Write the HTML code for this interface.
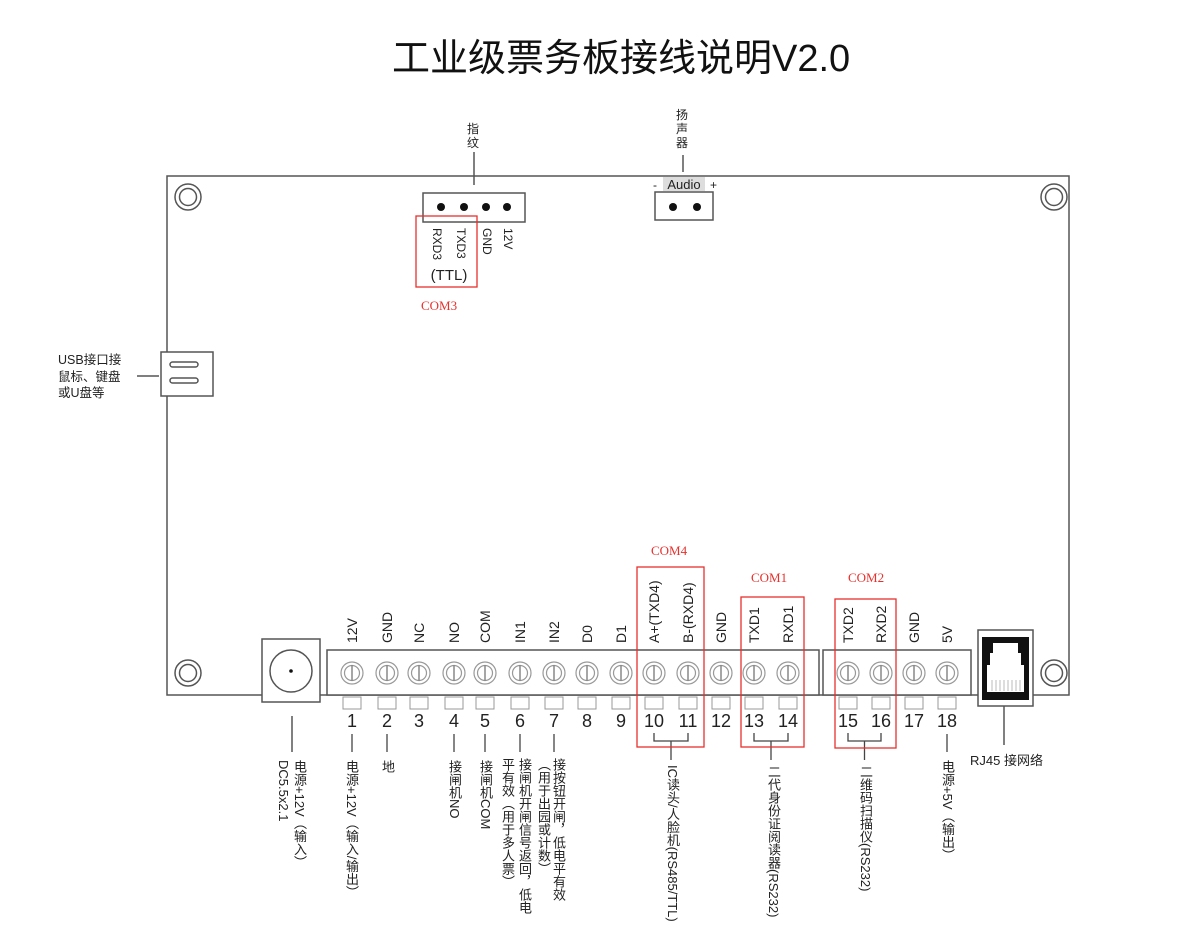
<!DOCTYPE html>
<html><head><meta charset="utf-8"><style>
body{margin:0;background:#fff;width:1177px;height:928px;position:relative;overflow:hidden;font-family:"Liberation Sans","Noto Sans CJK SC",sans-serif;color:#222}
.v{position:absolute;writing-mode:vertical-rl;font-size:13px;line-height:15px;white-space:nowrap;color:#222}
.t{position:absolute;white-space:nowrap}
.red{position:absolute;color:#e8302c;font-family:"Liberation Serif","Noto Serif CJK SC",serif;font-size:13px}
</style></head><body>
<div class="t" style="left:392px;top:36px;font-size:38px;line-height:46px;color:#111;letter-spacing:0px">工业级票务板接线说明V2.0</div>
<svg width="1177" height="928" style="position:absolute;left:0;top:0" xmlns="http://www.w3.org/2000/svg">
<g fill="none" stroke="#555" stroke-width="1.5">
<rect x="167" y="176" width="902" height="519" fill="#fff"/>
<circle cx="188" cy="197" r="13"/><circle cx="188" cy="197" r="8.5"/>
<circle cx="1054" cy="197" r="13"/><circle cx="1054" cy="197" r="8.5"/>
<circle cx="188" cy="673" r="13"/><circle cx="188" cy="673" r="8.5"/>
<circle cx="1054" cy="673" r="13"/><circle cx="1054" cy="673" r="8.5"/>
<!-- fingerprint -->
<rect x="423" y="193" width="102" height="29" fill="#fff"/>
<line x1="474" y1="152" x2="474" y2="185"/>
<!-- speaker -->
<rect x="655" y="192" width="58" height="28" fill="#fff"/>
<line x1="683" y1="155" x2="683" y2="172"/>
<!-- usb -->
<rect x="161" y="352" width="52" height="44" fill="#fff"/>
<rect x="170" y="362" width="28" height="5" rx="2.5"/>
<rect x="170" y="378" width="28" height="5" rx="2.5"/>
<line x1="137" y1="376" x2="159" y2="376"/>
<!-- dc jack -->
<rect x="262" y="639" width="58" height="63" fill="#fff"/>
<circle cx="291" cy="671" r="21"/>
<line x1="292" y1="716" x2="292" y2="752"/>
<!-- terminal blocks -->
<rect x="327" y="650" width="492" height="45" fill="#fff"/>
<rect x="823" y="650" width="148" height="45" fill="#fff"/>
<!-- rj45 -->
<rect x="978" y="630" width="55" height="76" fill="#fff"/>
<line x1="1004" y1="706" x2="1004" y2="745"/>
</g>
<g fill="#111">
<circle cx="441" cy="207" r="4"/><circle cx="464" cy="207" r="4"/><circle cx="486" cy="207" r="4"/><circle cx="507" cy="207" r="4"/>
<circle cx="673" cy="207" r="4"/><circle cx="697" cy="207" r="4"/>
<circle cx="291" cy="671" r="1.8"/>
<rect x="982" y="637" width="47" height="63"/>
</g>
<path d="M993 643H1018V653H1021V665H1024V692H987V665H990V653H993Z" fill="#fff"/>
<g stroke="#bbb" stroke-width="1"><line x1="992" y1="680" x2="992" y2="691"/><line x1="996" y1="680" x2="996" y2="691"/><line x1="1000" y1="680" x2="1000" y2="691"/><line x1="1004" y1="680" x2="1004" y2="691"/><line x1="1008" y1="680" x2="1008" y2="691"/><line x1="1012" y1="680" x2="1012" y2="691"/><line x1="1016" y1="680" x2="1016" y2="691"/><line x1="1020" y1="680" x2="1020" y2="691"/></g>
<rect x="663" y="177" width="42" height="14" fill="#ddd"/>
<text x="684" y="189" font-size="13" text-anchor="middle" fill="#222" font-family="Liberation Sans">Audio</text>
<text x="653" y="189" font-size="12" fill="#222" font-family="Liberation Sans">-</text>
<text x="710" y="189" font-size="12" fill="#222" font-family="Liberation Sans">+</text>
<!-- pins -->
<g font-family="Liberation Sans" fill="#222">
<g id="pins"></g>
</g>
<g stroke="#e8302c" stroke-width="1.3" fill="none">
<rect x="416" y="216" width="61" height="71"/>
<rect x="637" y="567" width="67" height="180"/>
<rect x="741" y="597" width="63" height="150"/>
<rect x="835" y="599" width="61" height="149"/>
</g>
<g font-family="Liberation Sans" font-size="12" fill="#222">
<text transform="translate(433,228) rotate(90)">RXD3</text>
<text transform="translate(457,228) rotate(90)">TXD3</text>
<text transform="translate(483,228) rotate(90)">GND</text>
<text transform="translate(504,228) rotate(90)">12V</text>
<text x="449" y="280" font-size="15" text-anchor="middle">(TTL)</text>
</g>
</svg>
<div class="t" style="left:467px;top:122px;font-size:12px;line-height:14px;width:14px">指<br>纹</div>
<div class="t" style="left:676px;top:108px;font-size:12px;line-height:14px;width:14px">扬<br>声<br>器</div>
<div class="t" style="left:58px;top:352px;font-size:12.5px;line-height:16.5px">USB接口接<br>鼠标、键盘<br>或U盘等</div>
<div class="t" style="left:970px;top:750px;font-size:13px">RJ45 接网络</div>
<div class="red" style="left:421px;top:298px">COM3</div>
<div class="red" style="left:651px;top:543px">COM4</div>
<div class="red" style="left:751px;top:570px">COM1</div>
<div class="red" style="left:848px;top:570px">COM2</div>
<div class="v" style="left:292px;top:760px">电源+12V（输入）</div>
<div class="v" style="left:276px;top:760px">DC5.5x2.1</div>
<div class="v" style="left:344px;top:760px">电源+12V（输入/输出）</div>
<div class="v" style="left:380px;top:760px">地</div>
<div class="v" style="left:447px;top:760px">接闸机NO</div>
<div class="v" style="left:478px;top:760px">接闸机COM</div>
<div class="v" style="left:517px;top:758px">接闸机开闸信号返回，低电</div>
<div class="v" style="left:500px;top:758px">平有效（用于多人票）</div>
<div class="v" style="left:551px;top:758px">接按钮开闸，低电平有效</div>
<div class="v" style="left:536px;top:758px">（用于出园或计数）</div>
<div class="v" style="left:665px;top:765px">IC读头/人脸机(RS485/TTL)</div>
<div class="v" style="left:766px;top:765px">二代身份证阅读器(RS232)</div>
<div class="v" style="left:858px;top:765px">二维码扫描仪(RS232)</div>
<div class="v" style="left:940px;top:760px">电源+5V（输出）</div>
<script>
var xs=[352,387,419,454,485,520,554,587,621,654,688,721,754,788,848,881,914,947];
var lab=["12V","GND","NC","NO","COM","IN1","IN2","D0","D1","A+(TXD4)","B-(RXD4)","GND","TXD1","RXD1","TXD2","RXD2","GND","5V"];
var ns="http://www.w3.org/2000/svg",g=document.getElementById("pins"),h="";
xs.forEach(function(x,i){
h+='<circle cx="'+x+'" cy="673" r="11" fill="#fff" stroke="#999" stroke-width="1.2"/><circle cx="'+x+'" cy="673" r="7.5" fill="none" stroke="#999" stroke-width="1.2"/><line x1="'+x+'" y1="665" x2="'+x+'" y2="681" stroke="#888" stroke-width="1.5"/>';
h+='<rect x="'+(x-9)+'" y="697" width="18" height="12" fill="#fff" stroke="#999"/>';
h+='<text x="'+x+'" y="727" font-size="18" text-anchor="middle">'+(i+1)+'</text>';
h+='<text transform="translate('+(x+5)+',643) rotate(-90)" font-size="14">'+lab[i]+'</text>';
});
[0,1,3,4,5,6,17].forEach(function(i){var x=xs[i];h+='<line x1="'+x+'" y1="734" x2="'+x+'" y2="752" stroke="#444" stroke-width="1.3"/>';});
[[9,10],[12,13],[14,15]].forEach(function(p){var a=xs[p[0]],b=xs[p[1]],c=(a+b)/2;
h+='<path d="M'+a+' 733V741H'+b+'V733M'+c+' 741V760" fill="none" stroke="#444" stroke-width="1.3"/>';});
g.innerHTML=h;
</script>
</body></html>
